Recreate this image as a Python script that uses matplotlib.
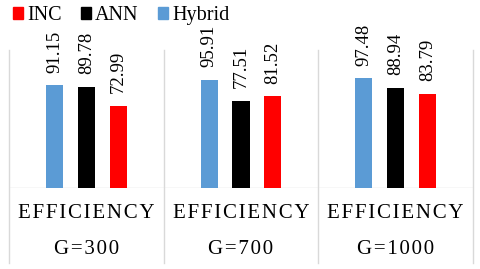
import matplotlib.pyplot as plt
import numpy as np
from matplotlib.patches import Patch
import matplotlib.transforms as mtransforms

plt.rcParams['font.family'] = ['Liberation Serif', 'DejaVu Serif']

groups = ['G=300', 'G=700', 'G=1000']
metric = 'EFFICIENCY'
hybrid = [91.15, 95.91, 97.48]
ann = [89.78, 77.51, 88.94]
inc = [72.99, 81.52, 83.79]

c_hyb = '#5B9BD5'
c_ann = '#000000'
c_inc = '#FF0000'
grid = '#D9D9D9'

def spaced(s):
    return '\u200a'.join(s)

fig = plt.figure(figsize=(4.8, 2.69), dpi=100)
ax = fig.add_axes([9/480, 81/269, 464/480, 138/269])

x = np.arange(len(groups))
w = 0.11
off = 0.206
series = [(hybrid, c_hyb, -off), (ann, c_ann, 0), (inc, c_inc, off)]
for vals, col, dx in series:
    ax.bar(x + dx, vals, width=w, color=col, zorder=3)
    for xi, v in zip(x + dx, vals):
        ax.annotate('%.2f' % v, (xi, v), xytext=(0, 9), textcoords='offset points',
                    rotation=90, ha='center', va='bottom', fontsize=13.5)

ax.set_xlim(-0.5, 2.5)
ax.set_ylim(0, 122.5)
for s in ax.spines.values():
    s.set_visible(False)
ax.set_xticks([])
ax.set_yticks([])

ax.axhline(0, color=grid, lw=1, zorder=2)
for xv in [-0.5, 0.5, 1.5, 2.5]:
    ax.axvline(xv, ymin=-75/138, ymax=1, color=grid, lw=1, clip_on=False)

trans = mtransforms.blended_transform_factory(ax.transData, ax.transAxes)
for xi, g in zip(x, groups):
    ax.text(xi, -25/138, spaced(metric), transform=trans, ha='center', va='center', fontsize=15)
    ax.text(xi, -62/138, spaced(g), transform=trans, ha='center', va='center', fontsize=15)

handles = [Patch(color=c_inc, label='INC'), Patch(color=c_ann, label='ANN'),
           Patch(color=c_hyb, label='Hybrid')]
fig.legend(handles=handles, loc='upper left', bbox_to_anchor=(-0.01, 1.045), ncol=3,
           frameon=False, fontsize=14.5, handlelength=0.5, handleheight=0.5,
           handletextpad=0.2, columnspacing=0.95)

fig.savefig('out.png', dpi=100)
